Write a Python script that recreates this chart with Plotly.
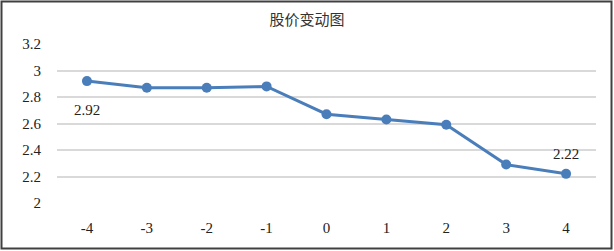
import plotly.graph_objects as go

categories = ["-4", "-3", "-2", "-1", "0", "1", "2", "3", "4"]
prices = [2.92, 2.87, 2.87, 2.88, 2.67, 2.63, 2.59, 2.29, 2.22]
labelled_points = [0, 8]          # indices of points that carry a value label
label_shifts = [-29, 20]          # label offset (px) from the point
y_ticks = [2, 2.2, 2.4, 2.6, 2.8, 3, 3.2]
y_tick_text = ["2", "2.2", "2.4", "2.6", "2.8", "3", "3.2"]
title_text = "股价变动图"

W, H = 614, 251
L, R, T, B = 57, 18, 44, 48
pw, ph = W - L - R, H - T - B
SERIF = "Liberation Serif"

fig = go.Figure()
fig.add_trace(go.Scatter(
    x=categories, y=prices, mode="lines+markers",
    line=dict(color="#4a7ebb", width=3),
    marker=dict(color="#4a7ebb", size=10),
    cliponaxis=False, showlegend=False, hoverinfo="skip",
))

annotations = []
for i, dy in zip(labelled_points, label_shifts):
    annotations.append(dict(x=i, y=prices[i], text=f"{prices[i]:.2f}",
                            showarrow=False, yshift=dy,
                            font=dict(family=SERIF, size=15, color="#222")))

fig.update_layout(
    width=W, height=H,
    margin=dict(l=L, r=R, t=T, b=B),
    paper_bgcolor="white", plot_bgcolor="white",
    title=dict(text=title_text, x=0.5, xanchor="center", y=1 - 20 / H, yanchor="middle",
               font=dict(family="Noto Sans CJK SC", size=15, color="#333")),
    font=dict(family=SERIF, size=15, color="#222"),
    xaxis=dict(type="category", range=[-0.5, 8.5], showgrid=False, showline=False,
               zeroline=False, ticks="", ticklabelstandoff=14,
               tickfont=dict(family=SERIF, size=15, color="#222")),
    yaxis=dict(range=[2, 3.2], tickvals=y_ticks, ticktext=y_tick_text,
               showgrid=True, gridcolor="#d9d9d9", gridwidth=1.5, zeroline=False,
               showline=False, ticks="", ticklabelstandoff=15,
               tickfont=dict(family=SERIF, size=15, color="#222")),
    annotations=annotations,
    shapes=[dict(type="rect", xref="paper", yref="paper",
                 x0=(1.5 - L) / pw, x1=(W - 2.5 - L) / pw,
                 y0=-(B - 2.5) / ph, y1=1 + (T - 1.5) / ph,
                 line=dict(color="#404040", width=2), layer="above")],
)
fig.write_html("out.html", config={"displayModeBar": False},
               post_script="document.body.style.margin='0';")
